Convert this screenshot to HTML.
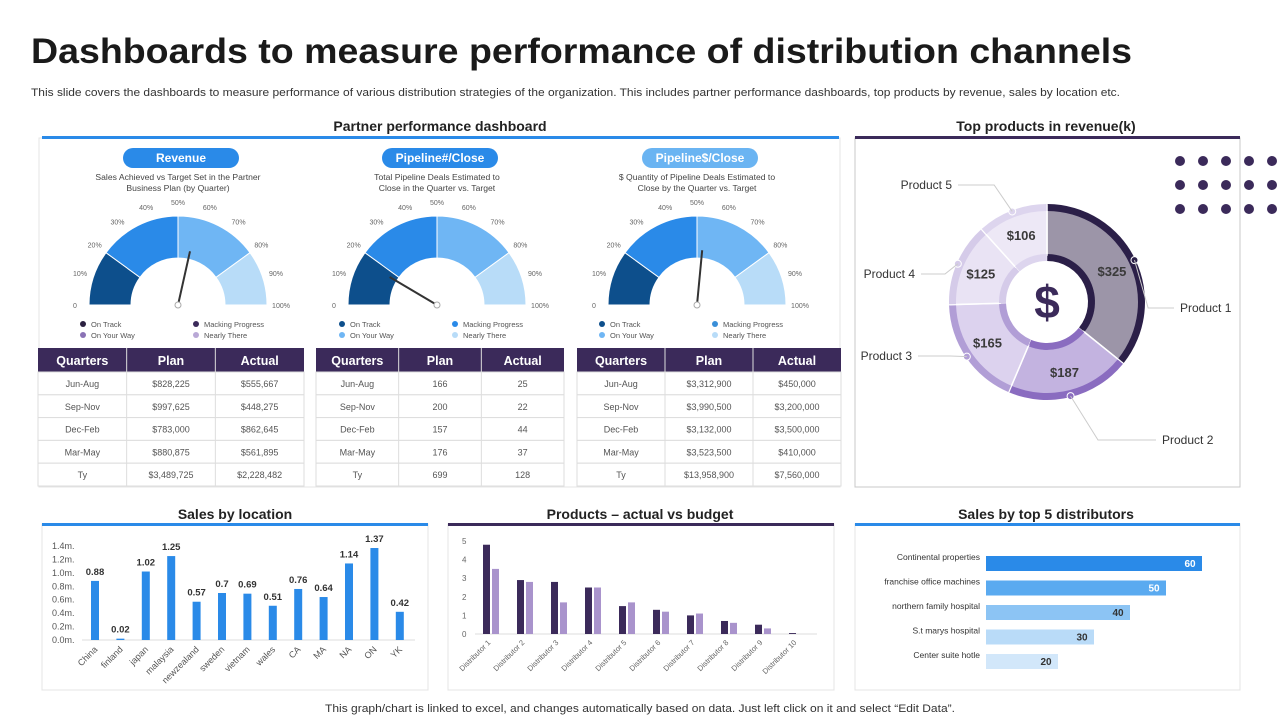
<!DOCTYPE html>
<html><head><meta charset="utf-8"><style>
body{margin:0;background:#fff;font-family:"Liberation Sans",sans-serif}
svg{display:block}
text{font-family:"Liberation Sans",sans-serif}
</style></head><body>
<svg id="s" width="1280" height="720" viewBox="0 0 1280 720">
<text x="31" y="63" font-size="35" font-weight="bold" fill="#1a1a1a" textLength="1101" lengthAdjust="spacingAndGlyphs">Dashboards to measure performance of distribution channels</text>
<text x="31" y="96" font-size="11.2" fill="#333" textLength="1089" lengthAdjust="spacingAndGlyphs">This slide covers the dashboards to measure performance of various distribution strategies of the organization. This includes partner performance dashboards, top products by revenue, sales by location etc.</text>
<text x="440" y="131" font-size="14" font-weight="bold" text-anchor="middle" fill="#222">Partner performance dashboard</text>
<rect x="39" y="138" width="801" height="349" fill="none" stroke="#e4e4e4"/>
<rect x="42" y="136" width="797" height="3" fill="#2a8ae8"/>
<text x="1046" y="131" font-size="14" font-weight="bold" text-anchor="middle" fill="#222">Top products in revenue(k)</text>
<rect x="855" y="138" width="385" height="349" fill="none" stroke="#c8c8c8"/>
<rect x="855" y="136" width="385" height="3" fill="#3b2a5a"/>
<text x="235" y="519" font-size="14" font-weight="bold" text-anchor="middle" fill="#222">Sales by location</text>
<rect x="42" y="524" width="386" height="166" fill="none" stroke="#e4e4e4"/>
<rect x="42" y="523" width="386" height="3" fill="#2a8ae8"/>
<text x="640" y="519" font-size="14" font-weight="bold" text-anchor="middle" fill="#222">Products – actual vs budget</text>
<rect x="448" y="524" width="386" height="166" fill="none" stroke="#e4e4e4"/>
<rect x="448" y="523" width="386" height="3" fill="#3b2a5a"/>
<text x="1046" y="519" font-size="14" font-weight="bold" text-anchor="middle" fill="#222">Sales by top 5 distributors</text>
<rect x="855" y="524" width="385" height="166" fill="none" stroke="#e4e4e4"/>
<rect x="855" y="523" width="385" height="3" fill="#2a8ae8"/>
<text x="640" y="712" font-size="11.2" text-anchor="middle" fill="#333" textLength="630" lengthAdjust="spacingAndGlyphs">This graph/chart is linked to excel, and changes automatically based on data. Just left click on it and select “Edit Data”.</text>
<g id="g"></g>
</svg>
<script>
const gaugeTitles=["Revenue","Pipeline#/Close","Pipeline$/Close"];
const gaugeSub1=["Sales Achieved vs Target Set in the Partner","Total Pipeline Deals Estimated to","$ Quantity of Pipeline Deals Estimated to"];
const gaugeSub2=["Business Plan (by Quarter)","Close in the Quarter  vs. Target","Close by the Quarter  vs. Target"];
const gaugeNeedle=[57,17,53];
const gaugeBands=[20,50,80,100];
const tableHead=["Quarters","Plan","Actual"];
const quarters=["Jun-Aug","Sep-Nov","Dec-Feb","Mar-May","Ty"];
const plan1=["$828,225","$997,625","$783,000","$880,875","$3,489,725"];
const actual1=["$555,667","$448,275","$862,645","$561,895","$2,228,482"];
const plan2=["166","200","157","176","699"];
const actual2=["25","22","44","37","128"];
const plan3=["$3,312,900","$3,990,500","$3,132,000","$3,523,500","$13,958,900"];
const actual3=["$450,000","$3,200,000","$3,500,000","$410,000","$7,560,000"];
const products=["Product 1","Product 2","Product 3","Product 4","Product 5"];
const productValues=[325,187,165,125,106];
const locations=["China","finland","japan","malaysia","newzealand","sweden","vietnam","wales","CA","MA","NA","ON","YK"];
const locationValues=[0.88,0.02,1.02,1.25,0.57,0.7,0.69,0.51,0.76,0.64,1.14,1.37,0.42];
const locationTicks=["0.0m.","0.2m.","0.4m.","0.6m.","0.8m.","1.0m.","1.2m.","1.4m."];
const distributors=["Distributor 1","Distributor 2","Distributor 3","Distributor 4","Distributor 5","Distributor 6","Distributor 7","Distributor 8","Distributor 9","Distributor 10"];
const actualValues=[4.8,2.9,2.8,2.5,1.5,1.3,1.0,0.7,0.5,0.05];
const budgetValues=[3.5,2.8,1.7,2.5,1.7,1.2,1.1,0.6,0.3,0];
const productTicks=[0,1,2,3,4,5];
const topDistributors=["Continental properties","franchise office machines","northern family hospital","S.t marys hospital","Center suite hotle"];
const topValues=[60,50,40,30,20];

const NS="http://www.w3.org/2000/svg";
const G=document.getElementById('g');
function mk(tag,attrs,parent,txt){const e=document.createElementNS(NS,tag);for(const k in attrs)e.setAttribute(k,attrs[k]);if(txt!==undefined)e.textContent=txt;(parent||G).appendChild(e);return e;}

const gcx=[178,437,697],gcy=305,R=89,r=47;
const bandCols=["#0d4f8c","#2a8ae8","#6fb6f4","#b8dcf8"];
const legCols=[["#2b2140","#3b2a5a","#8a72b5","#b9a8d6"],["#0d4f8c","#2a8ae8","#6fb6f4","#b8dcf8"],["#0d4f8c","#3a8fd8","#6fb6f4","#b8dcf8"]];
const legNames=["On Track","Macking Progress","On Your Way","Nearly There"];
function ang(p){return Math.PI*(1-p/100);}
function pt(cx,cy,rad,p){const a=ang(p);return [cx+rad*Math.cos(a),cy-rad*Math.sin(a)];}
for(let i=0;i<3;i++){
  const cx=gcx[i];
  const b=mk('rect',{x:cx-55,y:148,width:116,height:20,rx:10,fill:i==2?'#6ab4f2':'#2a8ae8'});
  
  const bt=mk('text',{x:cx+3,y:162,'font-size':12,'font-weight':'bold',fill:'#fff','text-anchor':'middle'},G,gaugeTitles[i]);
  
  const s1=mk('text',{x:cx,y:180,'font-size':8.6,fill:'#444','text-anchor':'middle'},G,gaugeSub1[i]);
  
  const s2=mk('text',{x:cx,y:191,'font-size':8.6,fill:'#444','text-anchor':'middle'},G,gaugeSub2[i]);
  
  let prev=0;
  gaugeBands.forEach((e,k)=>{
    const [x1,y1]=pt(cx,gcy,R,prev),[x2,y2]=pt(cx,gcy,R,e),[x3,y3]=pt(cx,gcy,r,e),[x4,y4]=pt(cx,gcy,r,prev);
    const p=mk('path',{d:`M${x1},${y1}A${R},${R} 0 0 1 ${x2},${y2}L${x3},${y3}A${r},${r} 0 0 0 ${x4},${y4}Z`,fill:bandCols[k],stroke:'#fff','stroke-width':1});
    
    prev=e;
  });
  for(let t=0;t<=100;t+=10){
    const [lx,ly]=pt(cx,gcy,R+14,t);
    const tx=mk('text',{x:lx,y:ly+3,'font-size':7,fill:'#666','text-anchor':'middle'},G,t==0?'0':t+'%');
    
  }
  const [nx,ny]=pt(cx,gcy,r+8,gaugeNeedle[i]);
  const n=mk('line',{x1:cx,y1:gcy,x2:nx,y2:ny,stroke:'#333','stroke-width':2});
  
  mk('circle',{cx:cx,cy:gcy,r:3,fill:'#fff',stroke:'#aaa'});
  legNames.forEach((nm,k)=>{
    const lx=cx-95+(k%2)*113, ly=324+Math.floor(k/2)*11;
    mk('circle',{cx:lx,cy:ly,r:3,fill:legCols[i][k]});
    const lt=mk('text',{x:lx+8,y:ly+3,'font-size':7.5,fill:'#555'},G,nm);
    
  });
}
const tx0=[38,316,577],tw=[266,248,264];
const tplans=[plan1,plan2,plan3],tacts=[actual1,actual2,actual3];
for(let i=0;i<3;i++){
  const x=tx0[i],w=tw[i],cw=w/3;
  const hd=mk('rect',{x:x,y:348,width:w,height:24,fill:'#3b2a5a'});
  
  tableHead.forEach((h,k)=>{
    mk('text',{x:x+cw*k+cw/2,y:365,'font-size':12.5,'font-weight':'bold',fill:'#fff','text-anchor':'middle'},G,h);
    if(k>0)mk('line',{x1:x+cw*k,y1:348,x2:x+cw*k,y2:486,stroke:'#ddd'});
  });
  quarters.forEach((q,j)=>{
    const y=372+j*22.8;
    const row=mk('rect',{x:x,y:y,width:w,height:22.8,fill:'#fff',stroke:'#ddd'});
    
    [q,tplans[i][j],tacts[i][j]].forEach((v,k)=>mk('text',{x:x+cw*k+cw/2,y:y+15,'font-size':9,fill:'#555','text-anchor':'middle'},G,v));
  });
  for(let k=1;k<3;k++)mk('line',{x1:x+cw*k,y1:372,x2:x+cw*k,y2:486,stroke:'#ddd'});
}
const dcx=1047,dcy=302;
const total=productValues.reduce((a,b)=>a+b,0);
const segFill=["#9c95a8","#c3b3e0","#dcd2ee","#e9e3f4","#ede8f6"];
const segBand=["#2b1f48","#8a6cc0","#b19ed6","#d5cbe9","#ddd5ee"];
const lblPos=[[1180,312,'start'],[1162,444,'start'],[912,360,'end'],[915,278,'end'],[952,189,'end']];
function arc(r1,r2,a1,a2){const p=(rr,a)=>[dcx+rr*Math.sin(a),dcy-rr*Math.cos(a)];const l=(a2-a1)>Math.PI?1:0;
 const [x1,y1]=p(r2,a1),[x2,y2]=p(r2,a2),[x3,y3]=p(r1,a2),[x4,y4]=p(r1,a1);
 return `M${x1},${y1}A${r2},${r2} 0 ${l} 1 ${x2},${y2}L${x3},${y3}A${r1},${r1} 0 ${l} 0 ${x4},${y4}Z`;}
let acc=0;
productValues.forEach((v,i)=>{
  const a1=acc/total*2*Math.PI,a2=(acc+v)/total*2*Math.PI;acc+=v;
  const s=mk('path',{d:arc(47,97,a1,a2),fill:segFill[i],stroke:'#fff','stroke-width':1.5});
  
  mk('path',{d:arc(91,98,a1+0.005,a2-0.005),fill:segBand[i]});
  mk('path',{d:arc(41,48,a1+0.005,a2-0.005),fill:segBand[i]});
  const m=(a1+a2)/2;
  const vt=mk('text',{x:dcx+72*Math.sin(m),y:dcy-72*Math.cos(m)+5,'font-size':13,'font-weight':'bold',fill:'#3a3a3a','text-anchor':'middle'},G,'$'+v);
  
  const ox=dcx+97*Math.sin(m),oy=dcy-97*Math.cos(m);
  mk('circle',{cx:ox,cy:oy,r:3.5,fill:segBand[i],stroke:'#fff'});
  const [lx,ly,an]=lblPos[i];
  mk('polyline',{points:`${ox},${oy} ${ox+(lx-ox)*0.3},${ly-4} ${lx+(an=='start'?-6:6)},${ly-4}`,fill:'none',stroke:'#ccc'});
  const pl=mk('text',{x:lx,y:ly,'font-size':12,fill:'#333','text-anchor':an},G,products[i]);
  
});
mk('circle',{cx:dcx,cy:dcy,r:40,fill:'#fff'});
const di=mk('text',{x:dcx,y:dcy+16,'font-size':46,'font-weight':'bold',fill:'#3b2a5a','text-anchor':'middle'},G,'$');

for(let rr=0;rr<3;rr++)for(let c=0;c<5;c++)mk('circle',{cx:1180+c*23,cy:161+rr*24,r:5,fill:'#3b2a5a'});
const ly0=640,lyScale=94/1.4,lx0=95,lstep=25.4;
locationTicks.forEach((t,k)=>{const y=ly0-k*0.2*lyScale;
  const tt=mk('text',{x:52,y:y+3,'font-size':9,fill:'#555'},G,t);});
mk('line',{x1:82,y1:ly0,x2:415,y2:ly0,stroke:'#ddd'});
locations.forEach((c,i)=>{const x=lx0+i*lstep,h=locationValues[i]*lyScale;
  const b=mk('rect',{x:x-4,y:ly0-h,width:8,height:h,fill:'#2a8ae8'});
  mk('text',{x:x,y:ly0-h-6,'font-size':9.5,'font-weight':'bold',fill:'#333','text-anchor':'middle'},G,String(locationValues[i]));
  mk('text',{x:x+3,y:ly0+10,'font-size':9,fill:'#555','text-anchor':'end',transform:`rotate(-45 ${x+3} ${ly0+10})`},G,c);
});
const py0=634,pyS=18.6,px0=487,pstep=34;
productTicks.forEach(t=>mk('text',{x:462,y:py0-t*pyS+3,'font-size':8,fill:'#666'},G,String(t)));
mk('line',{x1:475,y1:py0,x2:817,y2:py0,stroke:'#ddd'});
distributors.forEach((d,i)=>{const x=px0+i*pstep;
  const a=mk('rect',{x:x-4,y:py0-actualValues[i]*pyS,width:7,height:actualValues[i]*pyS,fill:'#3b2a5a'});
  const b=mk('rect',{x:x+5,y:py0-budgetValues[i]*pyS,width:7,height:budgetValues[i]*pyS,fill:'#a993cc'});
  mk('text',{x:x+4,y:py0+9,'font-size':7.5,fill:'#666','text-anchor':'end',transform:`rotate(-45 ${x+4} ${py0+9})`},G,d);
});
const hx0=986,hS=3.6;
const hcols=["#2a8ae8","#5aaaf0","#8cc4f4","#b9dbf8","#d2e7fa"];
topDistributors.forEach((d,i)=>{const y=556+i*24.5,w=topValues[i]*hS;
  const b=mk('rect',{x:hx0,y:y,width:w,height:15,fill:hcols[i]});
  mk('text',{x:hx0-6,y:y+4,'font-size':8.5,fill:'#333','text-anchor':'end'},G,d);
  mk('text',{x:hx0+w-12,y:y+11,'font-size':10,'font-weight':'bold',fill:i<2?'#fff':'#333','text-anchor':'middle'},G,String(topValues[i]));
});
</script>
</body></html>
